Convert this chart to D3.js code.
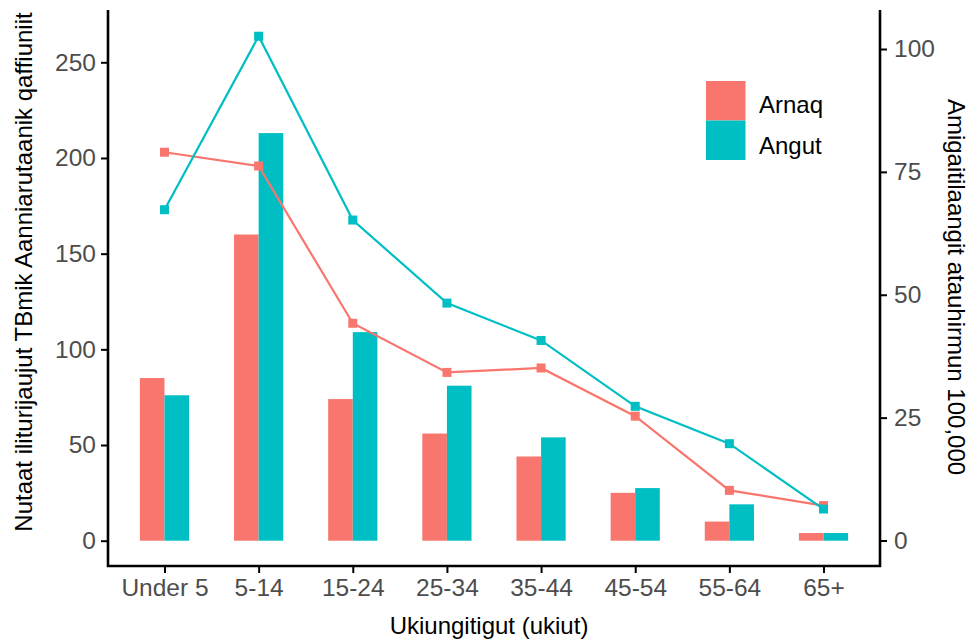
<!DOCTYPE html>
<html>
<head>
<meta charset="utf-8">
<script src="https://cdn.jsdelivr.net/npm/d3@7"></script>
<style>
  body { margin: 0; background: #fff; }
  text { font-family: "Liberation Sans", Arial, sans-serif; }
</style>
</head>
<body>
<svg id="chart" width="974" height="640"></svg>
<script>
const categories = ["Under 5", "5-14", "15-24", "25-34", "35-44", "45-54", "55-64", "65+"];
const seriesNames = ["Arnaq", "Angut"];
const arnaqCases = [85, 160, 74, 56, 44, 25, 10, 4];
const angutCases = [76, 213, 109, 81, 54, 27.5, 19, 4];
const arnaqRate = [79.0, 76.2, 44.2, 34.2, 35.1, 25.3, 10.2, 7.1];
const angutRate = [67.3, 102.6, 65.2, 48.3, 40.7, 27.3, 19.7, 6.4];
const leftTicks = [0, 50, 100, 150, 200, 250];
const rightTicks = [0, 25, 50, 75, 100];
const colors = ["#F8766D", "#00BFC4"];
const xTitle = "Ukiungitigut (ukiut)";
const yLeftTitle = "Nutaat iliturijaujut TBmik Aanniarutaanik qaffiuniit";
const yRightTitle = "Amigaitilaangit atauhirmun 100,000";

const svg = d3.select("#chart");
const P = { left: 108, right: 880, top: 10, bottom: 566 };
const FS = 24;
const TFS = 24.5;

const x = d3.scalePoint().domain(categories).range([P.left, P.right]).padding(0.6);
const yL = d3.scaleLinear().domain([0, 250]).range([540.7, 62.3]);
const yR = d3.scaleLinear().domain([0, 100]).range([540.5, 49]);
const barW = 24.6;
const xs = d3.scaleBand().domain(seriesNames).range([-barW, barW]);

const caseSeries = [arnaqCases, angutCases];
const rateSeries = [arnaqRate, angutRate];

// bars
caseSeries.forEach((vals, si) => {
  svg.append("g").selectAll("rect").data(vals).join("rect")
    .attr("x", (d, i) => x(categories[i]) + xs(seriesNames[si]))
    .attr("width", xs.bandwidth())
    .attr("y", d => yL(d))
    .attr("height", d => yL(0) - yL(d))
    .attr("fill", colors[si]);
});

// lines + points
rateSeries.forEach((vals, si) => {
  const line = d3.line().x((d, i) => x(categories[i])).y(d => yR(d));
  svg.append("path").datum(vals)
    .attr("d", line)
    .attr("fill", "none")
    .attr("stroke", colors[si])
    .attr("stroke-width", 2.2);
  svg.append("g").selectAll("rect").data(vals).join("rect")
    .attr("x", (d, i) => x(categories[i]) - 4.5)
    .attr("y", d => yR(d) - 4.5)
    .attr("width", 9).attr("height", 9)
    .attr("fill", colors[si]);
});

// axes
const styleAxis = g => {
  g.select(".domain").remove();
  g.selectAll(".tick line").attr("stroke", "#000").attr("stroke-width", 2);
  g.selectAll(".tick text").attr("fill", "#4d4d4d").attr("font-size", TFS)
    .attr("font-family", "Liberation Sans, Arial, sans-serif");
};

svg.append("g").attr("transform", `translate(${P.left},0)`)
  .call(d3.axisLeft(yL).tickValues(leftTicks).tickSize(7).tickPadding(5))
  .call(styleAxis);
svg.append("g").attr("transform", `translate(${P.right},0)`)
  .call(d3.axisRight(yR).tickValues(rightTicks).tickSize(7).tickPadding(7))
  .call(styleAxis);
svg.append("g").attr("transform", `translate(0,${P.bottom})`)
  .call(d3.axisBottom(x).tickSize(7).tickPadding(6))
  .call(styleAxis);

// axis lines
svg.append("path")
  .attr("d", `M${P.left},${P.top}V${P.bottom}H${P.right}V${P.top}`)
  .attr("fill", "none").attr("stroke", "#000").attr("stroke-width", 2.6);

// titles
svg.append("text").attr("x", 489).attr("y", 634).attr("text-anchor", "middle")
  .attr("font-size", FS).attr("fill", "#000").text(xTitle);
svg.append("text").attr("transform", "translate(32,272) rotate(-90)")
  .attr("text-anchor", "middle").attr("font-size", FS).attr("fill", "#000").text(yLeftTitle);
svg.append("text").attr("transform", "translate(948,287) rotate(90)")
  .attr("text-anchor", "middle").attr("font-size", FS).attr("fill", "#000").text(yRightTitle);

// legend
const lg = svg.append("g");
seriesNames.forEach((n, i) => {
  lg.append("rect").attr("x", 706).attr("y", 81 + i * 39.5).attr("width", 39.5).attr("height", 39.5)
    .attr("fill", colors[i]);
  lg.append("text").attr("x", 759).attr("y", 112.5 + i * 41.5)
    .attr("font-size", FS).attr("fill", "#000").text(n);
});
</script>
</body>
</html>
